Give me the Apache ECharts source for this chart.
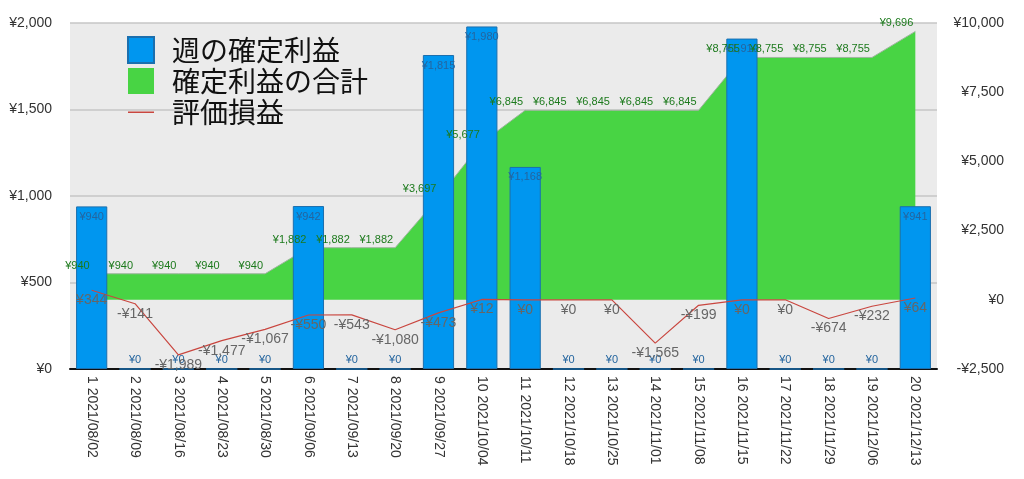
<!DOCTYPE html>
<html>
<head>
<meta charset="utf-8">
<script src="https://cdn.jsdelivr.net/npm/echarts@6/dist/echarts.min.js"></script>
<style>
html,body{margin:0;padding:0;background:#fff;}
#c{width:1024px;height:479px;}
</style>
</head>
<body>
<div id="c"></div>
<script>
const categories = ['1 2021/08/02','2 2021/08/09','3 2021/08/16','4 2021/08/23','5 2021/08/30','6 2021/09/06','7 2021/09/13','8 2021/09/20','9 2021/09/27','10 2021/10/04','11 2021/10/11','12 2021/10/18','13 2021/10/25','14 2021/11/01','15 2021/11/08','16 2021/11/15','17 2021/11/22','18 2021/11/29','19 2021/12/06','20 2021/12/13'];
const weeklyProfit = [940,0,0,0,0,942,0,0,1815,1980,1168,0,0,0,0,1910,0,0,0,941];
const cumulativeProfit = [940,940,940,940,940,1882,1882,1882,3697,5677,6845,6845,6845,6845,6845,8755,8755,8755,8755,9696];
const unrealized = [344,-141,-1989,-1477,-1067,-550,-543,-1080,-473,12,0,0,0,-1565,-199,0,0,-674,-232,64];
const seriesNames = ['週の確定利益','確定利益の合計','評価損益'];
const leftTicks = {min:0, max:2000, interval:500};
const rightTicks = {min:-2500, max:10000, interval:2500};

function yen(v){
  const s = Math.abs(v).toLocaleString('en-US');
  return (v < 0 ? '-¥' : '¥') + s;
}
const FONT = "'Liberation Sans','Noto Sans CJK JP',sans-serif";

const chart = echarts.init(document.getElementById('c'), null, {renderer:'canvas'});
chart.setOption({
  animation:false,
  textStyle:{fontFamily:FONT},
  grid:{left:70, right:87, top:23, bottom:110, show:true, backgroundColor:'#ebebeb', borderWidth:0},
  legend:{
    orient:'vertical', left:127, top:36, padding:0, itemWidth:26, itemHeight:26, itemGap:3,
    textStyle:{fontSize:28, lineHeight:28, color:'#111', fontFamily:"'Noto Sans CJK JP',sans-serif", padding:[0,0,0,13]},
    data:[
      {name:seriesNames[0], icon:'rect'},
      {name:seriesNames[1], icon:'rect'},
      {name:seriesNames[2], icon:'path://M0,0 M0,12.5 L26,12.5 L26,14 L0,14 Z M26,26'}
    ]
  },
  xAxis:{
    type:'category', data:categories, boundaryGap:true,
    axisLine:{lineStyle:{color:'#111', width:2}},
    axisTick:{show:false},
    axisLabel:{rotate:-90, margin:7, fontSize:14, color:'#333', interval:0, fontFamily:FONT}
  },
  yAxis:[
    {type:'value', min:leftTicks.min, max:leftTicks.max, interval:leftTicks.interval,
     axisLine:{show:false}, axisTick:{show:false},
     axisLabel:{formatter:yen, fontSize:14, color:'#333', margin:18, fontFamily:FONT},
     splitLine:{lineStyle:{color:'#c6c6c6', width:1.5}}},
    {type:'value', min:rightTicks.min, max:rightTicks.max, interval:rightTicks.interval,
     axisLine:{show:false}, axisTick:{show:false},
     axisLabel:{formatter:yen, fontSize:14, color:'#333', margin:67, align:'right', fontFamily:FONT},
     splitLine:{show:false}}
  ],
  series:[
    {
      name:seriesNames[1], type:'line', yAxisIndex:1, data:cumulativeProfit, z:1,
      symbol:'none',
      itemStyle:{color:'#48d444'},
      lineStyle:{color:'#9fb59f', width:1},
      areaStyle:{color:'#48d444', opacity:1}
    },
    {
      name:seriesNames[0], type:'bar', yAxisIndex:0, barWidth:'72%', z:2,
      data:weeklyProfit.map(v=>({value:v, label:{position: v>0 ? 'insideTop' : 'top', distance: v>0 ? 5 : 3}})),
      itemStyle:{color:'#0096ef', borderColor:'#1b6fae', borderWidth:1},
      label:{show:true, formatter:p=>yen(p.value), fontSize:11, color:'#24659f', fontFamily:FONT}
    },
    {
      name:'cumulative-labels', type:'line', yAxisIndex:1, data:cumulativeProfit, z:3,
      symbol:'circle', symbolSize:0.01, showSymbol:true, silent:true,
      itemStyle:{color:'rgba(0,0,0,0)'},
      lineStyle:{opacity:0, width:0},
      label:{show:true, position:'left', distance:2, offset:[0,-8], formatter:p=>yen(p.value),
             fontSize:11, color:'#1c7a1c', fontFamily:FONT}
    },
    {
      name:seriesNames[2], type:'line', yAxisIndex:1, data:unrealized, z:4,
      symbol:'circle', symbolSize:0.01, showSymbol:true,
      itemStyle:{color:'#c9463f'},
      lineStyle:{color:'#c9463f', width:1.2},
      label:{show:true, position:'bottom', distance:3, formatter:p=>yen(p.value),
             fontSize:14, color:'#666', fontFamily:FONT}
    }
  ]
});
</script>
</body>
</html>
